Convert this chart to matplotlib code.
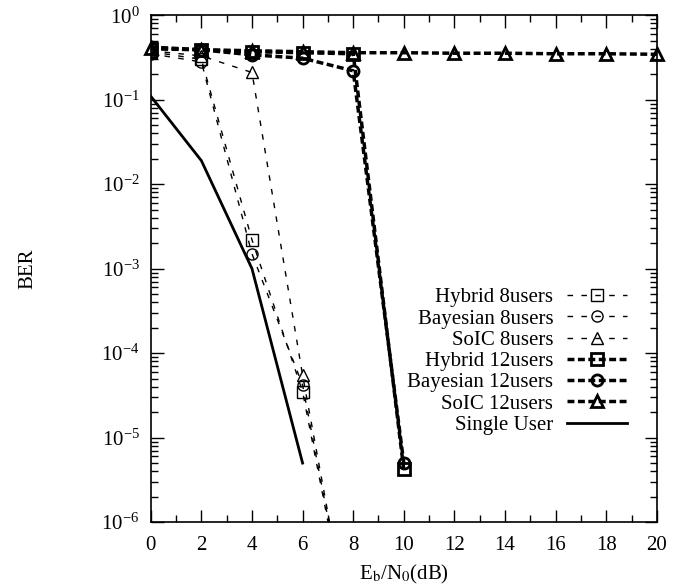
#!/usr/bin/env python3
"""
BER versus Eb/N0 for hybrid, Bayesian and SoIC detectors (8 and 12 users).
"""

import matplotlib
matplotlib.use("Agg")
import matplotlib.pyplot as plt
from matplotlib.ticker import LogLocator, MultipleLocator, NullFormatter

# Eb/N0 grid (dB)
snr_8 = [0, 2, 4, 6, 8]
snr_12 = [0, 2, 4, 6, 8, 10]
snr_soic12 = [0, 2, 4, 6, 8, 10, 12, 14, 16, 18, 20]
snr_single = [0, 2, 4, 6]

# BER
hybrid_8 = [0.37, 0.30, 2.2e-3, 3.5e-5, 3e-8]
bayes_8 = [0.35, 0.28, 1.5e-3, 4.2e-5, 3e-8]
soic_8 = [0.38, 0.33, 0.21, 5.5e-5, 3e-8]
hybrid_12 = [0.40, 0.39, 0.37, 0.36, 0.35, 4.2e-6]
bayes_12 = [0.42, 0.39, 0.34, 0.31, 0.22, 5.0e-6]
soic_12 = [0.41, 0.39, 0.38, 0.37, 0.36, 0.36, 0.355, 0.355, 0.35, 0.35, 0.345]
single_user = [0.11, 0.019, 1.0e-3, 5e-6]


def main():
    plt.rcParams["font.family"] = "Liberation Serif"
    plt.rcParams["mathtext.fontset"] = "stix"
    plt.rcParams["font.size"] = 15

    fig = plt.figure(figsize=(6.98, 5.86), dpi=100)
    ax = fig.add_axes([0.216, 0.109, 0.725, 0.865])

    thin = dict(color="black", lw=1.0, dashes=(4, 6), ms=8, mew=1.0, mfc="none")
    thick = dict(color="black", lw=2.5, dashes=(2, 1), ms=8, mew=2.0, mfc="none")

    ax.plot(snr_8, hybrid_8, marker="s", label="Hybrid 8users", **thin)
    ax.plot(snr_8, bayes_8, marker="o", label="Bayesian 8users", **thin)
    ax.plot(snr_8, soic_8, marker="^", label="SoIC 8users", **thin)
    ax.plot(snr_12, hybrid_12, marker="s", label="Hybrid 12users", **thick)
    ax.plot(snr_12, bayes_12, marker="o", label="Bayesian 12users", **thick)
    ax.plot(snr_soic12, soic_12, marker="^", label="SoIC 12users", clip_on=False, **thick)
    ax.plot(snr_single, single_user, color="black", lw=2.0, label="Single User")

    ax.set_yscale("log")
    ax.set_xlim(0, 20)
    ax.set_ylim(1e-6, 1)
    ax.xaxis.set_major_locator(MultipleLocator(2))
    ax.xaxis.set_minor_locator(MultipleLocator(1))
    ax.yaxis.set_major_locator(LogLocator(base=10, numticks=10))
    ax.yaxis.set_minor_locator(LogLocator(base=10, subs=range(2, 10), numticks=10))
    ax.yaxis.set_minor_formatter(NullFormatter())
    ax.tick_params(which="both", direction="in", top=True, right=True, width=1.0)
    ax.tick_params(which="major", length=9)
    ax.tick_params(axis="x", which="major", pad=10)
    ax.tick_params(axis="y", which="major", pad=8)
    ax.tick_params(which="minor", length=5)
    for s in ax.spines.values():
        s.set_linewidth(1.2)

    ax.set_xlabel(r"E$_\mathrm{b}$/N$_0$(dB)", labelpad=6)
    ax.set_ylabel("BER", labelpad=46)

    ax.legend(loc="upper right", bbox_to_anchor=(0.962, 0.483), frameon=False,
              markerfirst=False, numpoints=1, handlelength=2.9, labelspacing=0.08,
              handletextpad=0.65, borderpad=0)

    fig.savefig("out.png", dpi=100)


if __name__ == "__main__":
    main()
